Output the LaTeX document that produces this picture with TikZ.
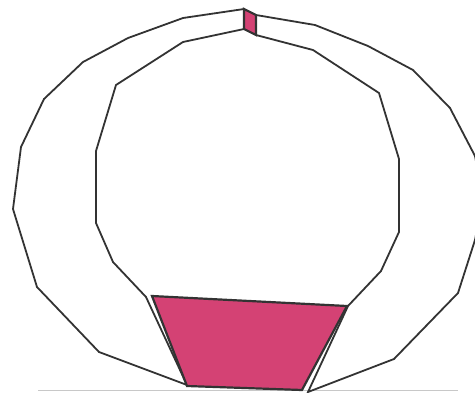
\documentclass[tikz,border=0pt]{standalone}
\definecolor{pinkfill}{RGB}{212,66,116}
\definecolor{edge}{RGB}{51,51,51}
\definecolor{baseline}{RGB}{200,200,200}
\tikzset{
  ringpart/.style={draw=edge, line width=1.8pt, fill=white, line join=miter},
  pinkpart/.style={draw=edge, line width=2.2pt, fill=pinkfill, line join=miter},
  groundline/.style={draw=baseline, line width=1.2pt}
}
\begin{document}
\begin{tikzpicture}[x=1pt,y=-1pt]
\useasboundingbox (0,0) rectangle (475,392);
\begin{scope}
\clip (0,0) rectangle (475,392);
% ground line
\draw[groundline] (38,390.5) -- (458,390.5);
% left half ring
\draw[ringpart] (244,9) -- (183,18) -- (128,38) -- (83,62) -- (44,99) -- (21,147) -- (13,209) -- (37,287) -- (99,352) -- (187,385)
  -- (146,297) -- (113,262) -- (96,223) -- (96,151) -- (116,85) -- (183,42) -- (244,29) -- cycle;
% right half ring
\draw[ringpart] (256,15) -- (315,25) -- (368,46) -- (413,70) -- (450,108) -- (475,156) -- (483,198) -- (475,240) -- (458,293) -- (394,359) -- (308,392)
  -- (348,306) -- (381,271) -- (399,232) -- (399,159) -- (379,93) -- (313,50) -- (256,35) -- cycle;
% keystone
\draw[pinkpart] (244,9) -- (256,15) -- (256,35) -- (244,29) -- cycle;
% bottom block
\draw[pinkpart] (152,296) -- (347,306) -- (302,390) -- (187,386) -- cycle;
\end{scope}
\end{tikzpicture}
\end{document}
